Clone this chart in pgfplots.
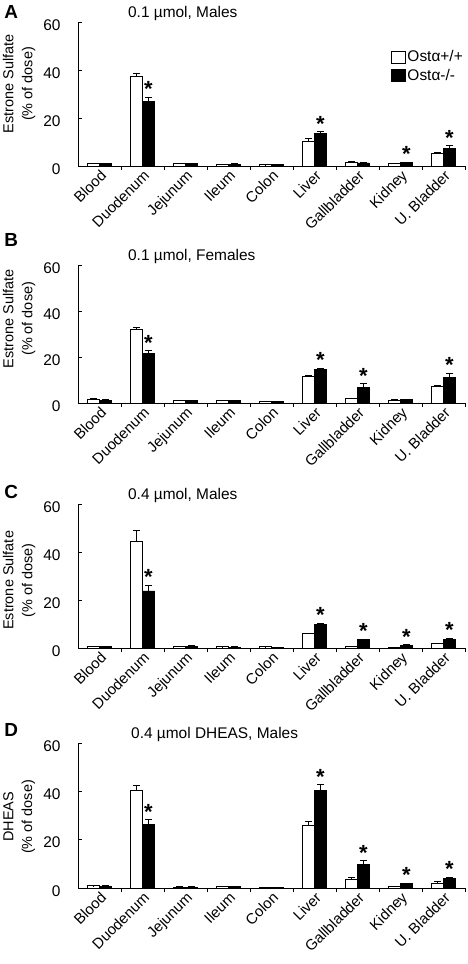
\documentclass[border=0pt]{standalone}
\usepackage{fontspec}
\setmainfont{Liberation Sans}
\usepackage{pgfplots}
\usepackage{pgfplotstable}
\pgfplotsset{compat=1.18}

% columns: category index, Osta+/+ mean, error, Osta-/- mean, error
\pgfplotstableread{
x w we b be
0 1.0 0.2 1.0 0.2
1 37.2 1.6 26.8 2.0
2 1.0 0.2 1.1 0.2
3 0.7 0.1 0.8 0.1
4 0.5 0.1 0.5 0.1
5 10.1 1.6 13.6 0.7
6 1.5 0.5 1.3 0.3
7 1.0 0.2 1.5 0.2
8 5.3 0.2 7.4 1.1
}\dataA
\pgfplotstableread{
x y
1 28.8
5 14.3
7 1.7
8 8.5
}\starsA

\pgfplotstableread{
x w we b be
0 1.7 0.3 1.3 0.2
1 32.1 0.9 21.4 1.4
2 1.0 0.1 1.0 0.1
3 1.0 0.1 1.1 0.1
4 0.6 0.1 0.6 0.1
5 11.8 0.4 14.5 0.7
6 1.9 0.3 6.9 1.5
7 1.2 0.2 1.5 0.2
8 7.2 0.4 11.0 2.0
}\dataB
\pgfplotstableread{
x y
1 22.8
5 15.2
6 8.4
8 13.0
}\starsB

\pgfplotstableread{
x w we b be
0 0.6 0.1 0.7 0.1
1 44.3 4.6 23.8 2.5
2 0.6 0.1 0.8 0.1
3 0.5 0.1 0.4 0.1
4 0.5 0.1 0.3 0.1
5 6.0 0.3 9.7 0.7
6 0.6 0.2 3.5 0.3
7 0.3 0.1 1.2 0.2
8 1.8 0.3 3.7 0.5
}\dataC
\pgfplotstableread{
x y
1 26.3
5 10.4
6 3.8
7 1.4
8 4.2
}\starsC

\pgfplotstableread{
x w we b be
0 0.9 0.1 0.8 0.1
1 40.3 2.2 26.2 2.1
2 0.4 0.1 0.4 0.1
3 0.6 0.1 0.6 0.1
4 0.3 0.1 0.3 0.1
5 25.9 1.7 40.3 2.5
6 3.4 1.2 9.9 1.4
7 0.7 0.1 1.8 0.3
8 2.1 0.8 4.1 0.4
}\dataD
\pgfplotstableread{
x y
1 28.3
5 42.8
6 11.3
7 2.1
8 4.5
}\starsD

\tikzset{letter/.style={anchor=north west, inner sep=0pt, font=\bfseries\fontsize{19}{19}\selectfont}}

\pgfplotsset{
  panel/.style={
    scale only axis, width=387bp,
    xmin=-0.5, xmax=8.5, ymin=0, ymax=60,
    axis lines=left, axis line style={-, line width=0.8bp},
    xtick={0,...,8},
    xticklabels={Blood,Duodenum,Jejunum,Ileum,Colon,Liver,Gallbladder,Kidney,U. Bladder},
    minor xtick={0.5,1.5,...,8.5},
    ytick={0,20,40,60}, minor ytick={0,20,40,60},
    major tick length=0pt, minor tick length=4bp, tick align=inside,
    tick style={line width=0.8bp, black},
    xticklabel style={rotate=45, anchor=north east, font=\fontsize{15}{15}\selectfont, inner sep=2bp},
    yticklabel style={font=\fontsize{15.5}{15.5}\selectfont, xshift=-14bp, yshift=-3bp},
    /pgf/number format/assume math mode=true,
    ybar=0pt, bar width=12bp,
    clip=false,
    ylabel style={align=center, font=\fontsize{14.5}{19}\selectfont, anchor=center},
    title style={anchor=west, font=\fontsize{15.5}{15.5}\selectfont, inner sep=0pt},
  },
  errs/.style={
    /pgfplots/error bars/y dir=plus,
    /pgfplots/error bars/y explicit,
    /pgfplots/error bars/error bar style={line width=0.7bp, black},
    /pgfplots/error bars/error mark options={rotate=90, mark size=3.5bp, line width=0.7bp, black}},
  wbar/.style={fill=white, draw=black, line width=0.7bp, bar shift=-6bp, errs,
    legend image code/.code={\draw[fill=white,draw=black,line width=0.7bp] (0bp,-6bp) rectangle (14bp,6bp);}},
  bbar/.style={fill=black, draw=black, line width=0.7bp, bar shift=6bp, errs,
    legend image code/.code={\draw[fill=black,draw=black,line width=0.7bp] (0bp,-6bp) rectangle (14bp,6bp);}},
  stars/.style={bar shift=6bp, draw=none, fill=none, forget plot,
    nodes near coords={*},
    nodes near coords style={anchor=south, inner sep=0pt, font=\bfseries\fontsize{22}{22}\selectfont}},
}

\begin{document}
\begin{tikzpicture}
\useasboundingbox (0,0) rectangle (468bp,-964bp);

% ---------- A ----------
\begin{axis}[panel, height=144bp, at={(78bp,-166bp)}, anchor=south west,
  ylabel={Estrone Sulfate\\(\% of dose)},
  ylabel style={at={(axis description cs:-0.152,0.57)}},
  title={0.1 µmol, Males},
  title style={at={(axis description cs:0.129,1.02)}},
  legend style={at={(axis description cs:0.809,0.8125)}, anchor=north west,
    draw=none, fill=none, font=\fontsize{15.5}{15.5}\selectfont, row sep=3bp,
    inner sep=0pt, nodes={inner sep=1.5bp}},
  legend cell align=left]
\addplot[wbar] table[x=x, y=w, y error=we] {\dataA};
\addlegendentry{Ostα+/+}
\addplot[bbar] table[x=x, y=b, y error=be] {\dataA};
\addlegendentry{Ostα-/-}
\addplot[stars] table[x=x, y=y] {\starsA};
\node[letter] at (axis description cs:-0.191,1.118) {A};
\end{axis}

% ---------- B ----------
\begin{axis}[panel, height=138bp, at={(78bp,-403bp)}, anchor=south west,
  ylabel={Estrone Sulfate\\(\% of dose)},
  ylabel style={at={(axis description cs:-0.152,0.61)}},
  title={0.1 µmol, Females},
  title style={at={(axis description cs:0.129,1.02)}}]
\addplot[wbar] table[x=x, y=w, y error=we] {\dataB};
\addplot[bbar] table[x=x, y=b, y error=be] {\dataB};
\addplot[stars] table[x=x, y=y] {\starsB};
\node[letter] at (axis description cs:-0.191,1.23) {B};
\end{axis}

% ---------- C ----------
\begin{axis}[panel, height=144bp, at={(78bp,-648bp)}, anchor=south west,
  ylabel={Estrone Sulfate\\(\% of dose)},
  ylabel style={at={(axis description cs:-0.152,0.47)}},
  title={0.4 µmol, Males},
  title style={at={(axis description cs:0.129,1.02)}}]
\addplot[wbar] table[x=x, y=w, y error=we] {\dataC};
\addplot[bbar] table[x=x, y=b, y error=be] {\dataC};
\addplot[stars] table[x=x, y=y] {\starsC};
\node[letter] at (axis description cs:-0.191,1.132) {C};
\end{axis}

% ---------- D ----------
\begin{axis}[panel, height=145bp, at={(78bp,-888bp)}, anchor=south west,
  ylabel={DHEAS\\(\% of dose)},
  ylabel style={at={(axis description cs:-0.152,0.49)}},
  title={0.4 µmol DHEAS, Males},
  title style={at={(axis description cs:0.137,1.02)}}]
\addplot[wbar] table[x=x, y=w, y error=we] {\dataD};
\addplot[bbar] table[x=x, y=b, y error=be] {\dataD};
\addplot[stars] table[x=x, y=y] {\starsD};
\node[letter] at (axis description cs:-0.191,1.138) {D};
\end{axis}
\end{tikzpicture}
\end{document}
